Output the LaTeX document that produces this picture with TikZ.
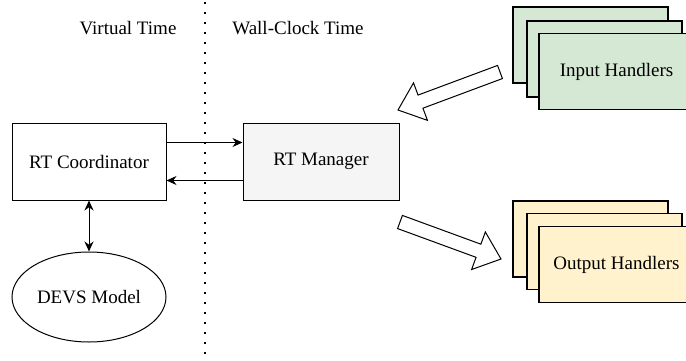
\documentclass[tikz,border=0pt]{standalone}
\usepackage{fontspec}
\newfontfamily\diagfont{Liberation Serif}
\usetikzlibrary{calc,shapes.geometric,arrows.meta}

\definecolor{handgreen}{HTML}{D5E8D4}
\definecolor{handyellow}{HTML}{FFF2CC}
\definecolor{mangray}{HTML}{F5F5F5}

\tikzset{
    box/.style={draw,line width=0.5pt,minimum width=77pt,minimum height=38.5pt,inner sep=0pt},
    handler/.style={draw,line width=0.6pt,minimum width=77.5pt,minimum height=38pt,inner sep=0pt},
    conn/.style={line width=0.5pt,-{Stealth[length=5pt,width=4.5pt]}},
    hollow/.style={draw,line width=0.5pt,fill=white,line join=miter}
}

\begin{document}
\begin{tikzpicture}[x=0.5pt,y=-0.5pt,font=\diagfont\fontsize{9.5}{11}\selectfont]
            \useasboundingbox (0,0) rectangle (686,360);

            % time split
            \draw[line width=0.8pt,dash pattern=on 0.8pt off 4.2pt] (205,2) -- (205,358);
            \node (virt) at (128,28) {Virtual Time};
            \node (wall) at (298,28) {Wall-Clock Time};

            \node[box] (coord) at (89,161.5) {RT Coordinator};
            \node[box,fill=mangray,minimum width=78pt] (man) at (321,161.5) {RT Manager};
            \node[draw,ellipse,line width=0.5pt,minimum width=77pt,minimum height=45pt,inner sep=0pt] (devs) at (89,297) {DEVS Model};

            \draw[conn] ([yshift=9.5pt]coord.east) -- ([yshift=9.5pt]man.west);
            \draw[conn] ([yshift=-9.5pt]man.west) -- ([yshift=-9.5pt]coord.east);
            \draw[conn,{Stealth[length=5pt,width=4.5pt]}-{Stealth[length=5pt,width=4.5pt]}] (coord.south) -- (devs.north);

            % handler stacks
            \node[handler,fill=handgreen] (in1) at (590.5,45) {};
            \node[handler,fill=handgreen] (in2) at (604.5,59) {};
            \node[handler,fill=handgreen] (in3) at (616.5,71.5) {Input Handlers};

            \node[handler,fill=handyellow] (out1) at (590.5,239) {};
            \node[handler,fill=handyellow] (out2) at (604.5,251.5) {};
            \node[handler,fill=handyellow] (out3) at (616.5,264.5) {Output Handlers};

            % block arrows
            \coordinate (inT) at (500,72);
            \coordinate (inH) at (398,110);
            \coordinate (inB) at ($(inH)!12pt!(inT)$);
            \path[hollow] ($(inT)!3.5pt!90:(inH)$) -- ($(inB)!3.5pt!90:(inH)$) -- ($(inB)!10pt!90:(inH)$)
                -- (inH) -- ($(inB)!10pt!-90:(inH)$) -- ($(inB)!3.5pt!-90:(inH)$) -- ($(inT)!3.5pt!-90:(inH)$) -- cycle;

            \coordinate (outT) at (400,222);
            \coordinate (outH) at (501,259);
            \coordinate (outB) at ($(outH)!12pt!(outT)$);
            \path[hollow] ($(outT)!3.5pt!90:(outH)$) -- ($(outB)!3.5pt!90:(outH)$) -- ($(outB)!10pt!90:(outH)$)
                -- (outH) -- ($(outB)!10pt!-90:(outH)$) -- ($(outB)!3.5pt!-90:(outH)$) -- ($(outT)!3.5pt!-90:(outH)$) -- cycle;

\end{tikzpicture}
\end{document}
